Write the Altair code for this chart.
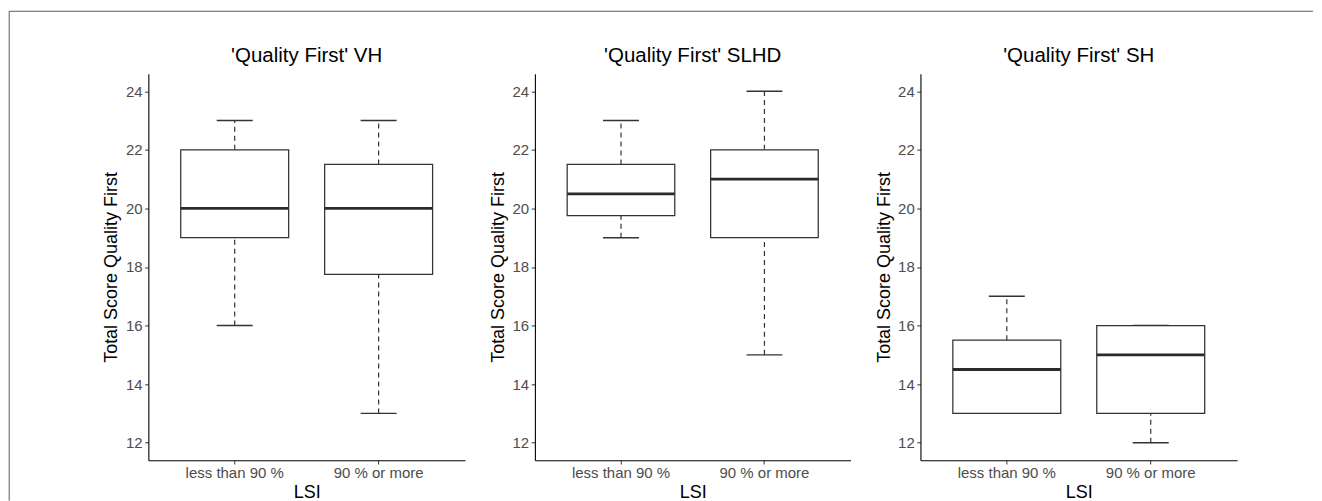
import altair as alt
import pandas as pd

# ---- data ----
groups = ["less than 90 %", "90 % or more"]
titles = ["'Quality First' VH", "'Quality First' SLHD", "'Quality First' SH"]
mins = [[16, 13], [19, 15], [13, 12]]
q1s = [[19, 17.75], [19.75, 19], [13, 13]]
medians = [[20, 20], [20.5, 21], [14.5, 15]]
q3s = [[22, 21.5], [21.5, 22], [15.5, 16]]
maxs = [[23, 23], [23, 24], [17, 16]]
y_ticks = [12, 14, 16, 18, 20, 22, 24]
y_domain = [11.4, 24.6]

FONT = "Liberation Sans"
INK = "#333333"
widths = [317, 316, 317]
HEIGHT = 387


def panel(i, border=False):
    w = widths[i]
    step = w / 2.2
    df = pd.DataFrame({
        "LSI": groups,
        "lo": mins[i], "q1": q1s[i], "med": medians[i],
        "q3": q3s[i], "hi": maxs[i],
    })
    x = alt.X(
        "LSI:N", sort=groups, title="LSI",
        scale=alt.Scale(type="band", paddingInner=0.25, paddingOuter=0.225),
        axis=alt.Axis(labelAngle=0, labelFontSize=15, labelColor="#4D4D4D",
                      labelFont=FONT, labelPadding=2, tickSize=3.7,
                      tickColor=INK, domainColor="black", domainWidth=1.1,
                      titleFontSize=18, titleFont=FONT, titleFontWeight="normal",
                      titleColor="black", titlePadding=2.5, grid=False),
    )
    yscale = alt.Scale(domain=y_domain, nice=False, zero=False)
    yaxis = alt.Axis(values=y_ticks, title="Total Score Quality First",
                     labelFontSize=15, labelColor="#4D4D4D", labelFont=FONT,
                     labelPadding=2.5, tickSize=3.7, tickColor=INK,
                     domainColor="black", domainWidth=1.1,
                     titleFontSize=18, titleFont=FONT, titleFontWeight="normal",
                     titleColor="black", titlePadding=8.5,
                     titleBaseline="alphabetic", grid=False)

    def Y(f):
        return alt.Y(f"{f}:Q", scale=yscale, axis=yaxis, title="Total Score Quality First")

    base = alt.Chart(df)
    upper = base.mark_rule(color=INK, strokeWidth=1.2, strokeDash=[5, 4]).encode(
        x=x, y=Y("q3"), y2="hi:Q")
    lower = base.mark_rule(color=INK, strokeWidth=1.2, strokeDash=[5, 4]).encode(
        x=x, y=Y("lo"), y2="q1:Q")
    cap_hi = base.mark_tick(color=INK, size=0.25 * step, thickness=1.4,
                            opacity=1).encode(x=x, y=Y("hi"))
    cap_lo = base.mark_tick(color=INK, size=0.25 * step, thickness=1.4,
                            opacity=1).encode(x=x, y=Y("lo"))
    box = base.mark_bar(fill="white", stroke=INK, strokeWidth=1.25,
                        opacity=1).encode(x=x, y=Y("q1"), y2="q3:Q")
    med = base.mark_tick(color="#2b2b2b", size=0.75 * step, thickness=2.8,
                         opacity=1).encode(x=x, y=Y("med"))

    tdf = pd.DataFrame({"t": [titles[i]]})
    title = alt.Chart(tdf).mark_text(
        font=FONT, fontSize=20.5, color="black", align="center",
        baseline="alphabetic",
    ).encode(text="t:N", x=alt.value(w / 2), y=alt.value(-11.5))

    layers = [upper, lower, cap_hi, cap_lo, box, med, title]
    if border:
        bdf = pd.DataFrame({"k": [0]})
        top = alt.Chart(bdf).mark_rule(color="#5a5a5a", strokeWidth=1).encode(
            x=alt.value(-139.3), x2=alt.value(1166), y=alt.value(-62.5))
        left = alt.Chart(bdf).mark_rule(color="#5a5a5a", strokeWidth=1).encode(
            x=alt.value(-139.3), y=alt.value(-62.5), y2=alt.value(427.5))
        layers = [top, left] + layers

    return alt.layer(*layers).properties(width=w, height=HEIGHT)


chart = alt.hconcat(
    panel(0, border=True), panel(1), panel(2),
    spacing=70, bounds="flush",
).properties(
    padding={"left": 0.5, "top": 2.5, "right": 0, "bottom": 0},
    background="white",
).configure_view(stroke=None)

chart.save("out.html", embed_options={"renderer": "svg", "actions": False})
